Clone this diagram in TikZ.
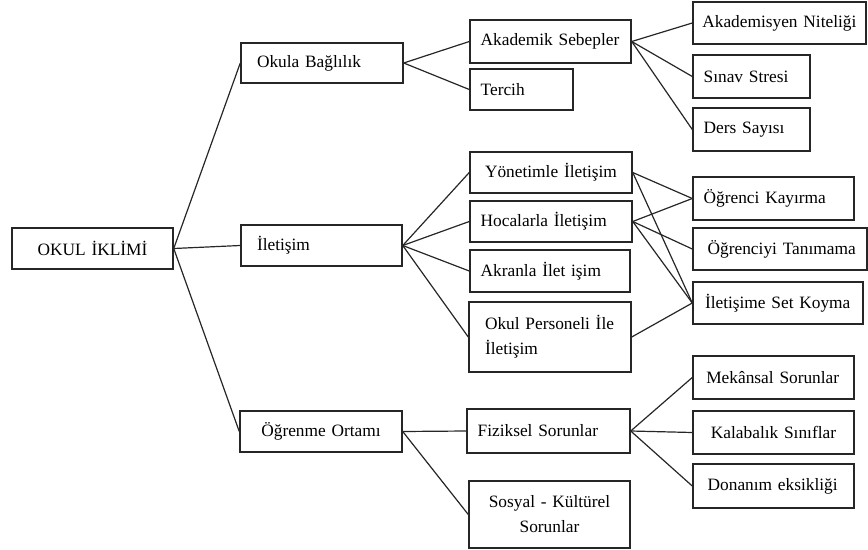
\documentclass[tikz,border=0pt]{standalone}
\usepackage{fontspec}
\setmainfont{Liberation Serif}
\begin{document}
\begin{tikzpicture}[x=0.75pt, y=-0.75pt,
  box/.style={draw=black!85, line width=1.1pt, inner xsep=8pt, inner ysep=0pt,
    align=left, font=\fontsize{13}{18.75}\selectfont},
  link/.style={draw=black!85, line width=0.9pt}]

  \useasboundingbox (0,0) rectangle (868,550);

  % root
  \node[box, align=center, text width=104.75pt, minimum height=30.75pt] (okul) at (92.5,248.5) {OKUL İKLİMİ};

  % first level
  \node[box, text width=105.5pt, minimum height=30pt]    (bag)  at (322,63)     {\hspace{4pt}Okula Bağlılık};
  \node[box, text width=104.75pt, minimum height=30.75pt] (ilet) at (321.5,245.5) {\hspace{4pt}İletişim};
  \node[box, align=center, text width=105.5pt, minimum height=30.75pt] (ogr) at (321,431.5) {Öğrenme Ortamı};

  % second level
  \node[box, text width=104.75pt, minimum height=32.25pt] (aka) at (550.5,41.5)  {Akademik Sebepler};
  \node[box, text width=61.25pt, minimum height=30.75pt]  (ter) at (521.5,89.5)  {Tercih};
  \node[box, align=center, text width=105.5pt, minimum height=30.75pt] (yon) at (551,172.5) {Yönetimle İletişim};
  \node[box, text width=105.5pt, minimum height=30.75pt]  (hoc) at (551,221.5)   {Hocalarla İletişim};
  \node[box, text width=104pt, minimum height=31.5pt]     (akr) at (550,271)     {Akranla İlet işim};
  \node[box, text width=105.5pt, minimum height=52.5pt]   (per) at (550,337)     {\hspace{4pt}Okul Personeli İle\\\hspace{4pt}İletişim};
  \node[box, text width=106.25pt, minimum height=33pt]    (fiz) at (548.5,431)   {Fiziksel Sorunlar};
  \node[box, align=center, text width=104.75pt, minimum height=50.25pt] (sos) at (549.5,514.5) {Sosyal - Kültürel\\Sorunlar};

  % third level
  \node[box, inner xsep=7pt, text width=115.75pt, minimum height=31.5pt] (nit) at (779.5,23) {Akademisyen Niteliği};
  \node[box, text width=71.75pt, minimum height=32.25pt]  (sin) at (751.5,76.5)  {Sınav Stresi};
  \node[box, text width=71.75pt, minimum height=32.25pt]  (der) at (751.5,129.5) {Ders Sayısı};
  \node[box, text width=104.75pt, minimum height=32.25pt] (kay) at (773.5,198.5) {Öğrenci Kayırma};
  \node[box, text width=114.5pt, minimum height=31.5pt]   (tan) at (780,249)     {\hspace{3pt}Öğrenciyi Tanımama};
  \node[box, inner xsep=9pt, text width=109.5pt, minimum height=31.5pt] (set) at (778,303) {İletişime Set Koyma};
  \node[box, text width=104.75pt, minimum height=32.25pt] (mek) at (773.5,377.5) {\hspace{2pt}Mekânsal Sorunlar};
  \node[box, align=center, text width=104.75pt, minimum height=32.25pt] (kal) at (773.5,432.5) {Kalabalık Sınıflar};
  \node[box, text width=104.75pt, minimum height=33pt]    (don) at (773.5,486)   {\hspace{3pt}Donanım eksikliği};

  % links from root
  \foreach \c in {bag,ilet,ogr}
    \draw[link] (okul.east) -- (\c.west);

  % links from first level
  \foreach \c in {aka,ter}
    \draw[link] (bag.east) -- (\c.west);
  \foreach \c in {yon,hoc,akr,per}
    \draw[link] (ilet.east) -- (\c.west);
  \foreach \c in {fiz,sos}
    \draw[link] (ogr.east) -- (\c.west);

  % links from second level
  \foreach \c in {nit,sin,der}
    \draw[link] (aka.east) -- (\c.west);
  \foreach \c in {kay,set}
    \draw[link] (yon.east) -- (\c.west);
  \foreach \c in {kay,tan,set}
    \draw[link] (hoc.east) -- (\c.west);
  \draw[link] (per.east) -- (set.west);
  \foreach \c in {mek,kal,don}
    \draw[link] (fiz.east) -- (\c.west);

\end{tikzpicture}
\end{document}
